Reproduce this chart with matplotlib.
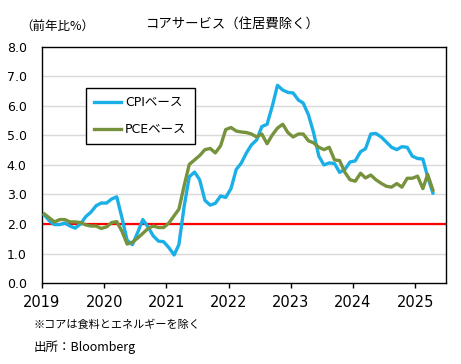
import matplotlib
matplotlib.use("Agg")
import matplotlib.pyplot as plt
import matplotlib.dates as mdates
import pandas as pd

plt.rcParams['font.family'] = ['DejaVu Sans', 'Noto Sans CJK JP']

# monthly, Jan 2019 - Apr 2025 (% y/y)
months = pd.date_range('2019-01-01', periods=76, freq='MS') + pd.Timedelta(days=14)

cpi = [2.30, 2.10, 1.98, 1.98, 2.03, 1.93, 1.86, 2.00, 2.25, 2.40, 2.62, 2.71,
       2.71, 2.85, 2.92, 2.20, 1.45, 1.30, 1.70, 2.15, 1.90, 1.60, 1.42, 1.40,
       1.20, 0.95, 1.30, 2.60, 3.60, 3.76, 3.50, 2.80, 2.64, 2.70, 2.95, 2.90,
       3.20, 3.85, 4.05, 4.40, 4.68, 4.85, 5.30, 5.38, 6.00, 6.70, 6.54, 6.46,
       6.44, 6.20, 6.10, 5.70, 5.10, 4.30, 4.00, 4.07, 4.05, 3.75, 3.85, 4.10,
       4.14, 4.45, 4.55, 5.05, 5.07, 4.95, 4.78, 4.60, 4.52, 4.62, 4.60, 4.30,
       4.22, 4.20, 3.60, 3.05]

pce = [2.34, 2.20, 2.07, 2.15, 2.15, 2.07, 2.07, 2.05, 1.97, 1.93, 1.93, 1.85,
       1.90, 2.05, 2.08, 1.75, 1.32, 1.38, 1.52, 1.68, 1.85, 1.93, 1.88, 1.88,
       2.03, 2.28, 2.50, 3.30, 4.02, 4.17, 4.32, 4.52, 4.56, 4.41, 4.65, 5.20,
       5.27, 5.15, 5.12, 5.10, 5.05, 4.95, 5.05, 4.72, 5.02, 5.25, 5.38, 5.10,
       4.95, 5.05, 5.05, 4.82, 4.75, 4.60, 4.52, 4.60, 4.17, 4.15, 3.75, 3.50,
       3.45, 3.72, 3.56, 3.66, 3.50, 3.38, 3.28, 3.25, 3.37, 3.25, 3.55, 3.55,
       3.62, 3.20, 3.68, 3.15]

target = 2.0
years = list(range(2019, 2026))

fig = plt.figure(figsize=(4.61, 3.64), dpi=100)
ax = fig.add_axes([0.0911, 0.2225, 0.8764, 0.6485])

for y in range(1, 8):
    ax.axhline(y, color='#d9d9d9', lw=1.0, zorder=1)
ax.axhline(target, color='#ff0000', lw=1.6, zorder=2)

ax.plot(months, cpi, color='#1aafe6', lw=2.4, label='CPIベース', zorder=3)
ax.plot(months, pce, color='#76923c', lw=2.4, label='PCEベース', zorder=3)

ax.set_xlim(pd.Timestamp('2019-01-01'), pd.Timestamp('2025-07-01'))
ax.set_ylim(0, 8)
ax.set_yticks(range(0, 9))
ax.set_yticklabels([f'{v:.1f}' for v in range(0, 9)])
ax.set_xticks([pd.Timestamp(f'{y}-01-01') for y in years])
ax.xaxis.set_major_formatter(mdates.DateFormatter('%Y'))
ax.tick_params(axis='x', direction='out', length=3.5, width=1, pad=5, labelsize=10.5)
ax.tick_params(axis='y', length=0, pad=11, labelsize=9)
for s in ax.spines.values():
    s.set_color('black')
    s.set_linewidth(1.0)

leg = ax.legend(loc='upper left', bbox_to_anchor=(0.109, 0.826), borderaxespad=0,
                frameon=True, fancybox=False, edgecolor='black', framealpha=1,
                handlelength=2.15, handletextpad=0.3, labelspacing=1.1, borderpad=0.65,
                prop={'family': ['DejaVu Sans', 'Noto Sans CJK JP'], 'size': 9})
leg.get_frame().set_linewidth(1.0)

fig.text(0.506, 0.935, 'コアサービス（住居費除く）', ha='center', va='center',
         fontsize=9.6, family=['Noto Sans CJK JP'])
fig.text(0.045, 0.925, '（前年比%）', ha='left', va='center', fontsize=9,
         family=['Noto Sans CJK JP'])
fig.text(0.072, 0.107, '※コアは食料とエネルギーを除く', ha='left', va='center',
         fontsize=8, family=['Noto Sans CJK JP'])
fig.text(0.072, 0.045, '出所：Bloomberg', ha='left', va='center',
         fontsize=9, family=['Noto Sans CJK JP', 'DejaVu Sans'])

fig.savefig('out.png', dpi=100)
